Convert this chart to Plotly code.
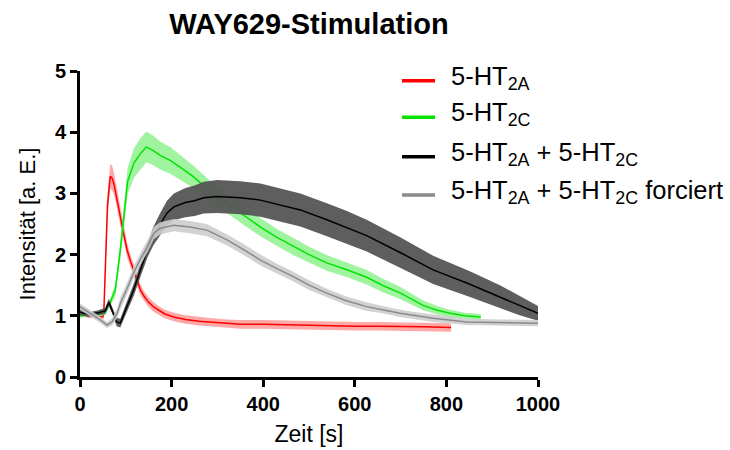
import plotly.graph_objects as go

# ---------------- data ----------------
red_t = [0, 10, 20, 30, 40, 50, 52, 55, 60, 66, 70, 74, 80, 88, 95, 103, 110, 117, 125, 132, 140, 150, 160, 170, 185, 205, 230, 260, 290, 320, 350, 400, 450, 500, 550, 600, 650, 700, 750, 810]
red_m = [1.03, 1.02, 1.0, 1.0, 0.98, 0.98, 1.05, 1.8, 2.8, 3.28, 3.25, 3.16, 2.95, 2.62, 2.35, 2.07, 1.9, 1.75, 1.58, 1.42, 1.32, 1.22, 1.15, 1.1, 1.03, 0.98, 0.94, 0.91, 0.89, 0.87, 0.86, 0.86, 0.85, 0.84, 0.84, 0.83, 0.83, 0.82, 0.82, 0.81]
red_e = [0.05, 0.04, 0.04, 0.04, 0.04, 0.04, 0.06, 0.12, 0.18, 0.2, 0.2, 0.18, 0.16, 0.14, 0.13, 0.12, 0.1, 0.1, 0.09, 0.09, 0.08, 0.08, 0.08, 0.07, 0.07, 0.07, 0.07, 0.07, 0.07, 0.07, 0.07, 0.07, 0.07, 0.07, 0.07, 0.07, 0.07, 0.07, 0.07, 0.07]

green_t = [0, 20, 40, 55, 66, 77, 88, 96, 104, 118, 132, 145, 160, 175, 197, 220, 248, 285, 321, 360, 394, 430, 466, 500, 540, 580, 626, 660, 700, 749, 780, 808, 840, 875]
green_m = [1.0, 1.02, 1.02, 1.05, 1.22, 1.42, 2.07, 2.62, 3.2, 3.5, 3.65, 3.76, 3.7, 3.62, 3.54, 3.42, 3.27, 3.03, 2.84, 2.62, 2.45, 2.28, 2.13, 2.0, 1.86, 1.76, 1.63, 1.5, 1.37, 1.17, 1.09, 1.04, 1.0, 0.98]
green_e = [0.03, 0.03, 0.03, 0.04, 0.06, 0.1, 0.15, 0.2, 0.22, 0.24, 0.25, 0.25, 0.24, 0.23, 0.22, 0.2, 0.18, 0.17, 0.16, 0.15, 0.15, 0.14, 0.14, 0.13, 0.13, 0.12, 0.12, 0.11, 0.1, 0.08, 0.07, 0.06, 0.05, 0.05]

black_t = [0, 20, 40, 55, 63, 70, 80, 88, 100, 117, 132, 147, 160, 176, 190, 205, 230, 250, 270, 300, 350, 394, 440, 481, 539, 580, 626, 700, 771, 850, 917, 960, 1000]
black_m = [1.06, 1.02, 1.05, 1.08, 1.22, 1.1, 0.9, 0.88, 1.1, 1.42, 1.75, 2.07, 2.3, 2.51, 2.68, 2.78, 2.85, 2.88, 2.93, 2.95, 2.93, 2.89, 2.8, 2.73, 2.57, 2.45, 2.31, 2.03, 1.75, 1.52, 1.31, 1.17, 1.04]
black_e = [0.05, 0.04, 0.04, 0.05, 0.06, 0.06, 0.07, 0.07, 0.08, 0.1, 0.11, 0.12, 0.15, 0.18, 0.2, 0.22, 0.24, 0.25, 0.26, 0.27, 0.27, 0.27, 0.27, 0.27, 0.27, 0.27, 0.26, 0.25, 0.23, 0.21, 0.19, 0.16, 0.12]

gray_t = [0, 15, 30, 45, 59, 70, 81, 88, 103, 117, 132, 147, 161, 175, 205, 240, 277, 321, 360, 394, 430, 466, 500, 539, 580, 626, 660, 699, 735, 771, 844, 920, 1000]
gray_m = [1.15, 1.08, 1.01, 0.93, 0.85, 0.9, 1.04, 1.2, 1.45, 1.7, 1.93, 2.13, 2.35, 2.43, 2.48, 2.45, 2.4, 2.24, 2.07, 1.91, 1.77, 1.64, 1.5, 1.37, 1.25, 1.15, 1.1, 1.04, 1.0, 0.96, 0.9, 0.89, 0.88]
gray_e = [0.05, 0.05, 0.05, 0.05, 0.05, 0.06, 0.08, 0.1, 0.1, 0.1, 0.1, 0.1, 0.1, 0.1, 0.1, 0.1, 0.1, 0.09, 0.09, 0.09, 0.08, 0.08, 0.08, 0.07, 0.07, 0.07, 0.06, 0.06, 0.06, 0.06, 0.05, 0.05, 0.05]

names = ["5-HT<sub>2A</sub>", "5-HT<sub>2C</sub>",
         "5-HT<sub>2A</sub> + 5-HT<sub>2C</sub>",
         "5-HT<sub>2A</sub> + 5-HT<sub>2C</sub> forciert"]
x_ticks = [0, 200, 400, 600, 800, 1000]
y_ticks = [0, 1, 2, 3, 4, 5]

# ---------------- styling ----------------
FONT = "Liberation Sans, Arial"
series = [
    (red_t, red_m, red_e, "#ff0000", "rgba(255,110,110,0.6)"),
    (green_t, green_m, green_e, "#00e400", "rgba(120,240,120,0.7)"),
    (black_t, black_m, black_e, "#000000", "rgba(85,85,85,0.95)"),
    (gray_t, gray_m, gray_e, "#8a8a8a", "rgba(205,205,205,0.9)"),
]

fig = go.Figure()
for t, m, e, lc, fc in series:
    lo = [a - b for a, b in zip(m, e)]
    hi = [a + b for a, b in zip(m, e)]
    fig.add_trace(go.Scatter(x=t, y=lo, mode="lines", line=dict(width=0, color=fc),
                             showlegend=False, hoverinfo="skip"))
    fig.add_trace(go.Scatter(x=t, y=hi, mode="lines", line=dict(width=0, color=fc),
                             fill="tonexty", fillcolor=fc, showlegend=False, hoverinfo="skip"))
    fig.add_trace(go.Scatter(x=t, y=m, mode="lines", line=dict(width=1.5, color=lc),
                             showlegend=False))

# manual legend (layout, paper coords)
L, R, T, B = 80, 192, 71, 73
W = 730 - L - R
H = 450 - T - B
def px2paper_x(p):
    return (p - L) / W
def px2paper_y(p):
    return (450 - B - p) / H

rows = [80.7, 117.3, 156.7, 195]
leg_colors = ["#ff0000", "#00e400", "#000000", "#8a8a8a"]
for yy, c, nm in zip(rows, leg_colors, names):
    fig.add_shape(type="line", xref="paper", yref="paper",
                  x0=px2paper_x(402), x1=px2paper_x(435),
                  y0=px2paper_y(yy), y1=px2paper_y(yy),
                  line=dict(color=c, width=3.5))
    fig.add_annotation(xref="paper", yref="paper", x=px2paper_x(449), y=px2paper_y(yy - 3),
                       text=nm, showarrow=False, xanchor="left", yanchor="middle",
                       font=dict(size=25.5, color="black", family=FONT))

fig.update_layout(
    width=730, height=450,
    margin=dict(l=L, r=R, t=T, b=B),
    paper_bgcolor="white", plot_bgcolor="white",
    font=dict(family=FONT, color="black"),
    title=dict(text="<b>WAY629-Stimulation</b>", x=px2paper_x(309), xref="paper", xanchor="center",
               y=1 - 24 / 450, yanchor="middle", font=dict(size=29, color="black")),
    showlegend=False,
)
fig.update_xaxes(range=[0, 1000], tickvals=x_ticks, ticktext=[str(v) for v in x_ticks],
                 showline=True, linewidth=3, linecolor="black", ticks="outside",
                 ticklen=7, tickwidth=3, tickcolor="black", showgrid=False, zeroline=False,
                 automargin=False,
                 tickfont=dict(size=20, family=FONT, color="black", weight="bold"),
                 title=dict(text="Zeit [s]", font=dict(size=23), standoff=12))
fig.update_yaxes(range=[0, 5], tickvals=y_ticks, ticktext=[str(v) for v in y_ticks],
                 showline=True, linewidth=3, linecolor="black", ticks="outside",
                 ticklen=7, tickwidth=3, tickcolor="black", showgrid=False, zeroline=False,
                 automargin=False,
                 tickfont=dict(size=20, family=FONT, color="black", weight="bold"),
                 title=dict(text="Intensität [a. E.]", font=dict(size=22), standoff=14))

fig.write_html("out.html")
